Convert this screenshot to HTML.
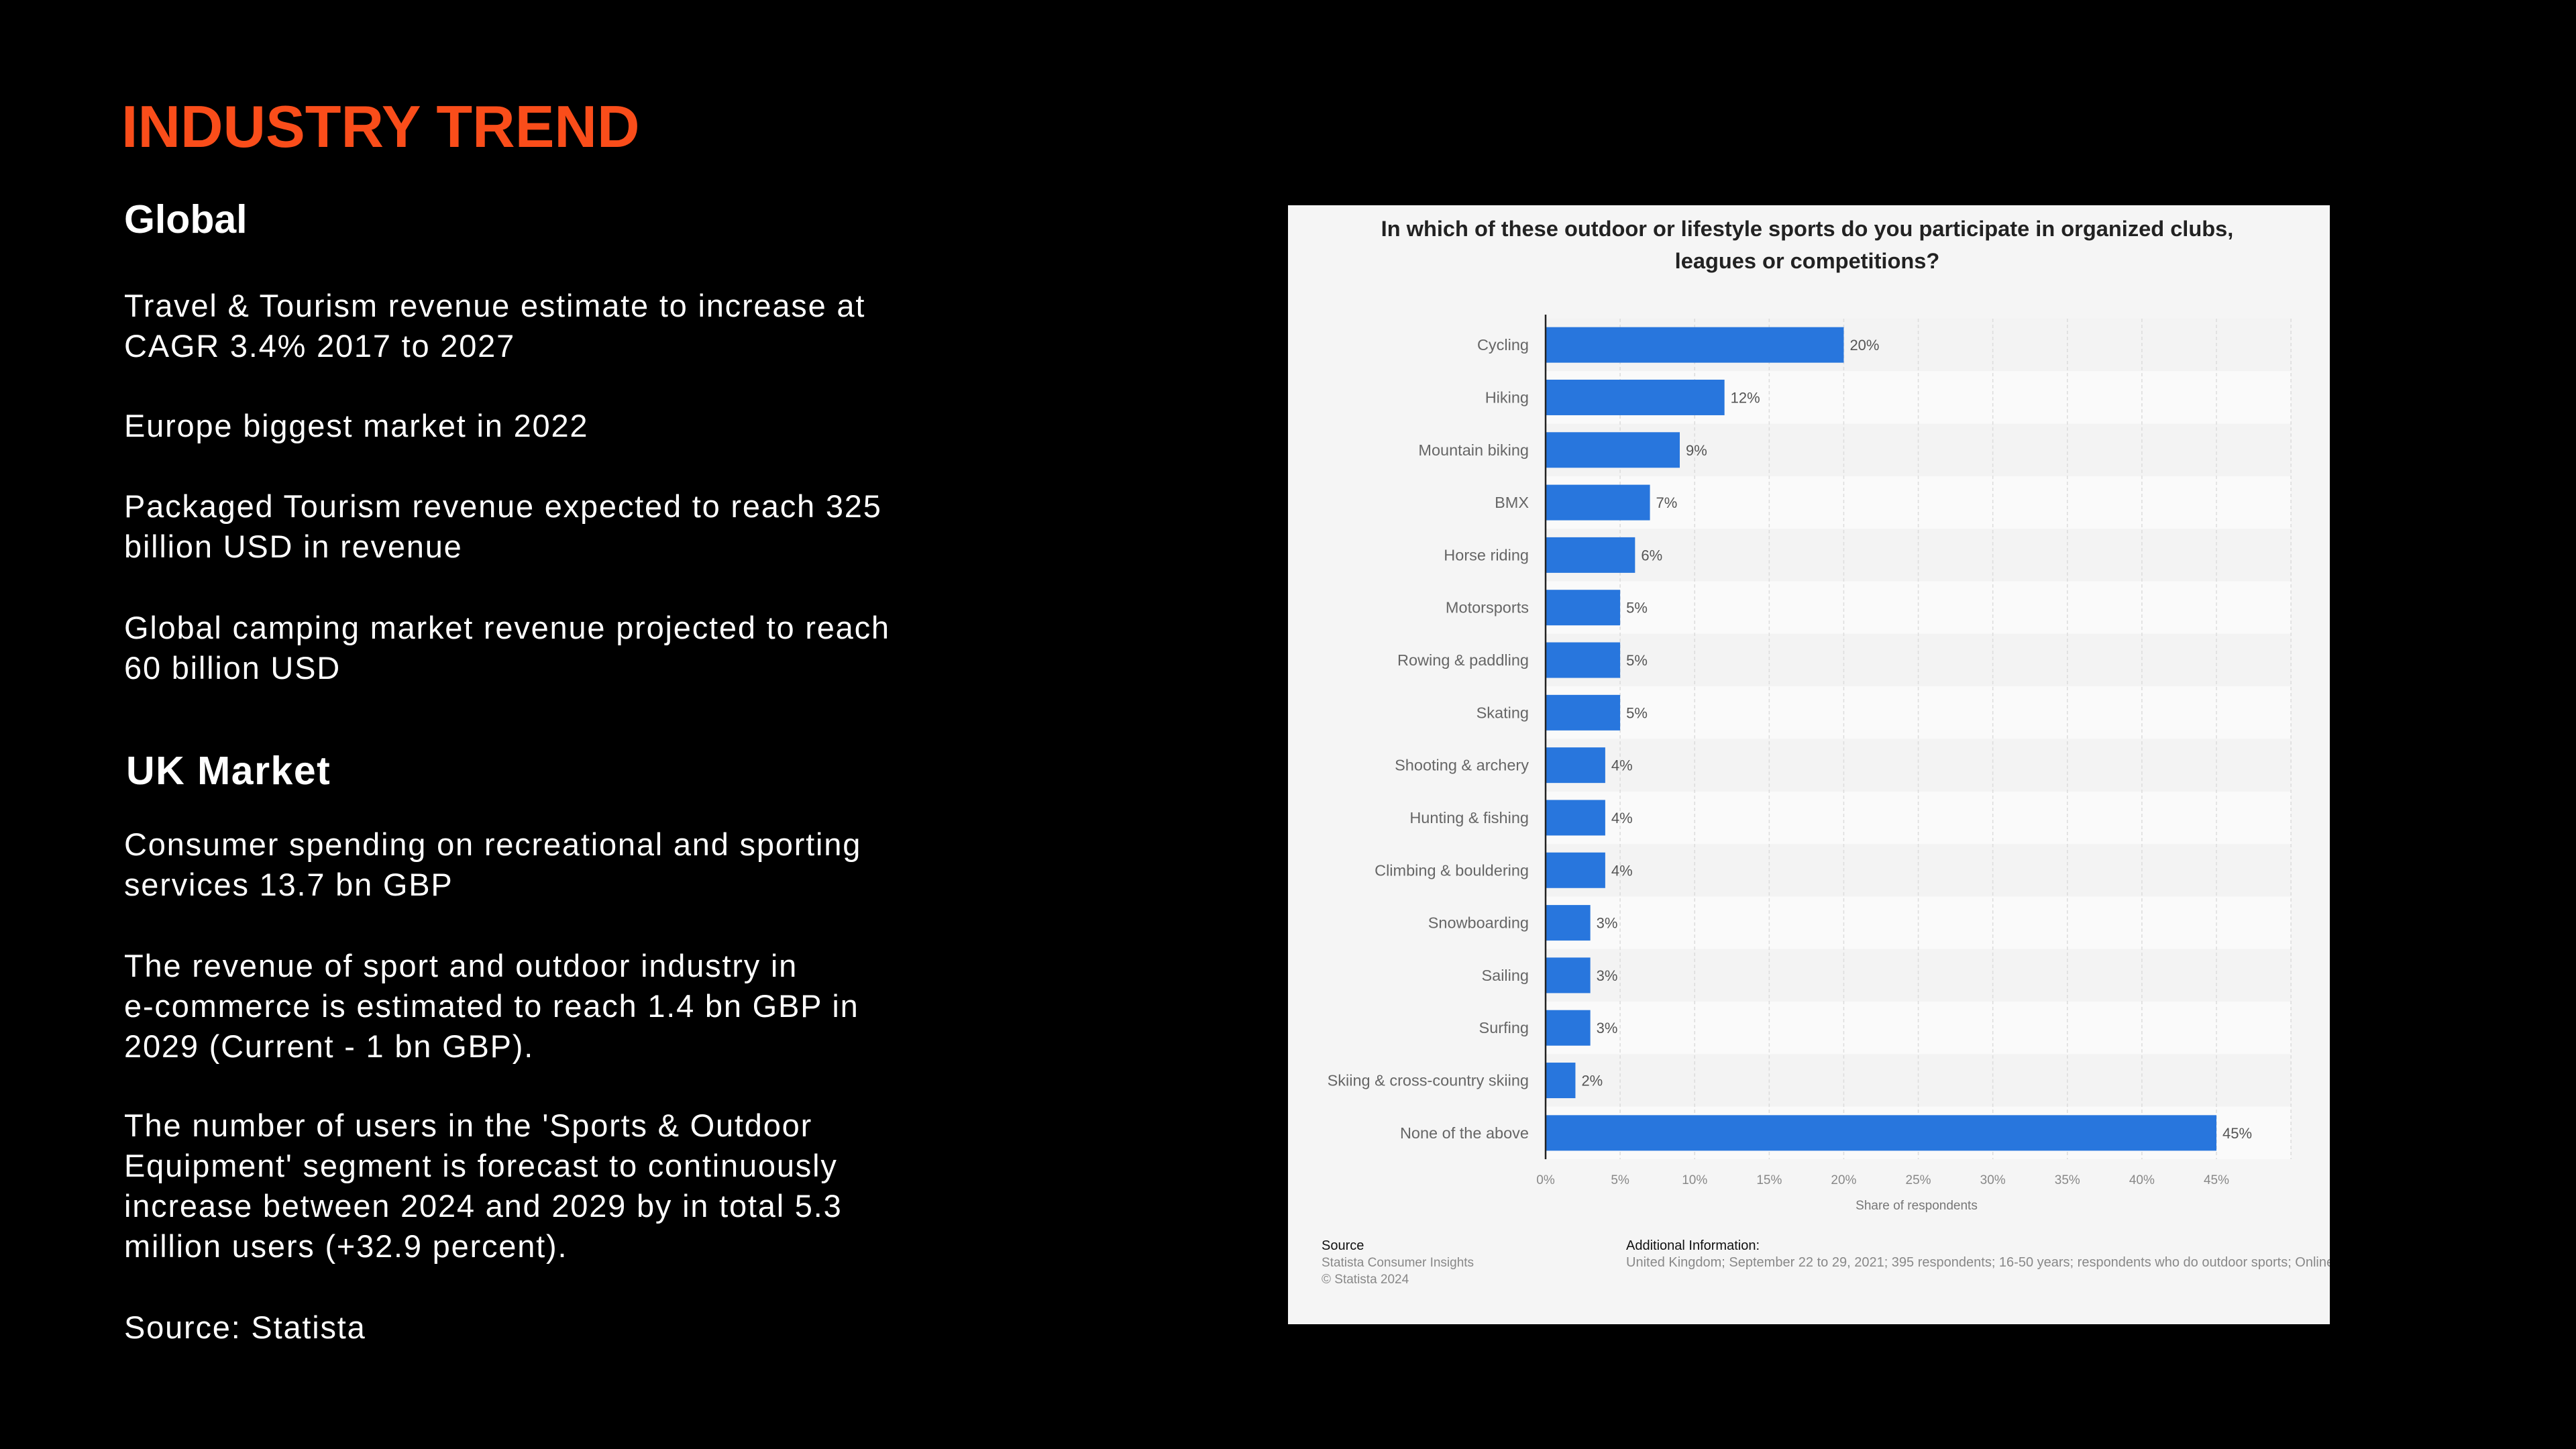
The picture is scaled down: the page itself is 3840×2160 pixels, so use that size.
<!DOCTYPE html>
<html><head><meta charset="utf-8">
<style>
html,body{margin:0;padding:0;background:#000;}
body{width:3840px;height:2160px;position:relative;overflow:hidden;font-family:"Liberation Sans",sans-serif;}
.t{position:absolute;left:185px;color:#fff;font-size:47px;letter-spacing:1.8px;line-height:60px;white-space:nowrap;}
.h{position:absolute;left:185px;color:#fff;font-weight:bold;font-size:59px;line-height:57px;}
</style></head><body>
<div style="position:absolute;left:181px;top:139px;color:#fa4d1a;font-weight:bold;font-size:88px;line-height:100px;">INDUSTRY TREND</div>
<div class="h" style="top:299px">Global</div>
<div class="t" style="top:426px">Travel &amp; Tourism revenue estimate to increase at<br>CAGR 3.4% 2017 to 2027</div>
<div class="t" style="top:605px">Europe biggest market in 2022</div>
<div class="t" style="top:725px">Packaged Tourism revenue expected to reach 325<br>billion USD in revenue</div>
<div class="t" style="top:906px">Global camping market revenue projected to reach<br>60 billion USD</div>
<div class="h" style="top:1121px;left:188px;letter-spacing:1.5px">UK Market</div>
<div class="t" style="top:1229px">Consumer spending on recreational and sporting<br>services 13.7 bn GBP</div>
<div class="t" style="top:1410px">The revenue of sport and outdoor industry in<br>e-commerce is estimated to reach 1.4 bn GBP in<br>2029 (Current - 1 bn GBP).</div>
<div class="t" style="top:1648px">The number of users in the 'Sports &amp; Outdoor<br>Equipment' segment is forecast to continuously<br>increase between 2024 and 2029 by in total 5.3<br>million users (+32.9 percent).</div>
<div class="t" style="top:1949px">Source: Statista</div>

<svg id="chart" width="3840" height="2160" style="position:absolute;left:0;top:0" font-family="Liberation Sans, sans-serif">
<defs><clipPath id="pc"><rect x="1920" y="306" width="1553" height="1668"/></clipPath></defs>
<g clip-path="url(#pc)">
<rect x="1920" y="306" width="1553" height="1668" fill="#f5f5f5"/>
<text x="2694" y="352" text-anchor="middle" font-size="32.6" font-weight="bold" fill="#222">In which of these outdoor or lifestyle sports do you participate in organized clubs,</text>
<text x="2694" y="400" text-anchor="middle" font-size="32.6" font-weight="bold" fill="#222">leagues or competitions?</text>
<g id="plot"></g>
<text x="2857" y="1803" text-anchor="middle" font-size="19" fill="#777">Share of respondents</text>
<text x="1970" y="1863" font-size="20" fill="#111">Source</text>
<text x="1970" y="1888" font-size="19" fill="#888">Statista Consumer Insights</text>
<text x="1970" y="1913" font-size="19" fill="#888">© Statista 2024</text>
<text x="2424" y="1863" font-size="20" fill="#111">Additional Information:</text>
<text x="2424" y="1888" font-size="20" fill="#888">United Kingdom; September 22 to 29, 2021; 395 respondents; 16-50 years; respondents who do outdoor sports; Online survey</text>
</g>
</svg>
<script>
const categories = ["Cycling","Hiking","Mountain biking","BMX","Horse riding","Motorsports","Rowing & paddling","Skating","Shooting & archery","Hunting & fishing","Climbing & bouldering","Snowboarding","Sailing","Surfing","Skiing & cross-country skiing","None of the above"];
const values = [20,12,9,7,6,5,5,5,4,4,4,3,3,3,2,45];
const ticks = [0,5,10,15,20,25,30,35,40,45];
const tickLabels = ["0%","5%","10%","15%","20%","25%","30%","35%","40%","45%"];

const NS="http://www.w3.org/2000/svg";
const x0=2304, pxPer=1000/45, top0=475, bottom0=1728;
const rowH=(bottom0-top0)/categories.length, barH=53;
const xs=v=>x0+v*pxPer;
const ys=i=>top0+i*rowH;
const g=document.getElementById('plot');
function mk(tag,attrs){const e=document.createElementNS(NS,tag);for(const k in attrs)e.setAttribute(k,attrs[k]);g.appendChild(e);return e;}
categories.forEach((c,i)=>{
  const r=mk('rect',{x:x0,y:ys(i),width:xs(50)-x0,height:rowH,fill:i%2?'#fafafa':'#f3f3f3'});
  
  
});
for(let v=5;v<=50;v+=5){
  const l=mk('line',{x1:xs(v),x2:xs(v),y1:top0,y2:bottom0,stroke:'#dcdcdc','stroke-width':1.5,'stroke-dasharray':'5,4'});
  
  
}
categories.forEach((c,i)=>{
  const yc=ys(i)+rowH/2;
  const b=mk('rect',{x:x0,y:yc-barH/2,width:xs(values[i])-x0,height:barH,fill:'#2876dd'});
  
  
  const t=mk('text',{x:2279,y:yc+8,'text-anchor':'end','font-size':23.5,fill:'#666'});
  t.textContent=c;
  
  
  const v=mk('text',{x:xs(values[i])+9,y:yc+8,'font-size':22,fill:'#555'});
  v.textContent=values[i]+'%';
  
  
});
const ax=mk('line',{x1:x0,x2:x0,y1:top0-6,y2:bottom0,stroke:'#222','stroke-width':2.5});


ticks.forEach((v,i)=>{
  const t=mk('text',{x:xs(v),y:1765,'text-anchor':'middle','font-size':19,fill:'#888'});
  t.textContent=tickLabels[i];
  
  
});
</script>
</body></html>
